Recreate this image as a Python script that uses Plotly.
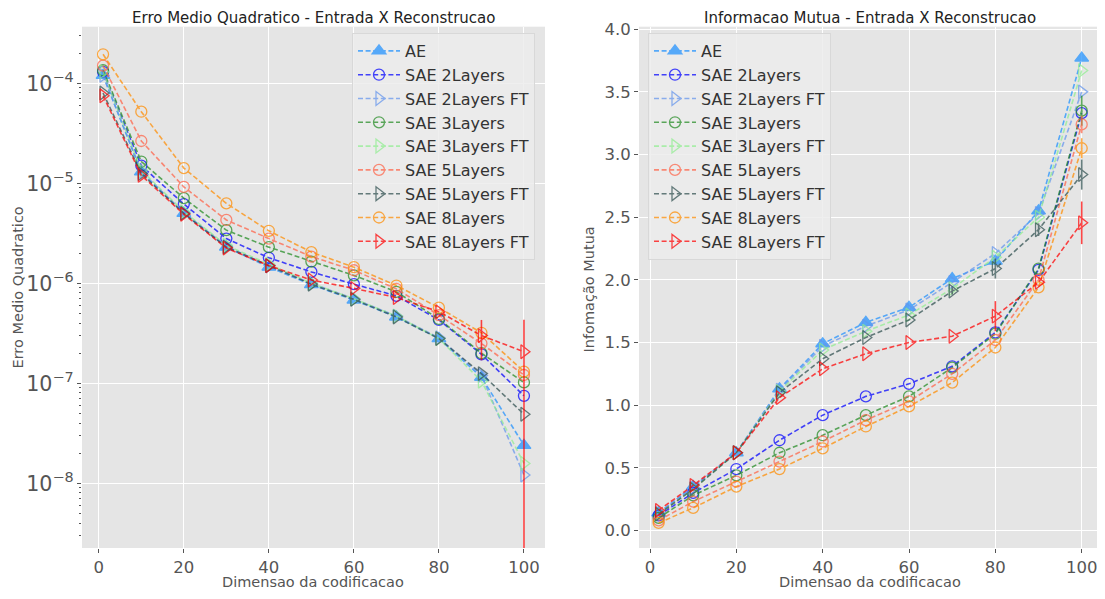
import plotly.graph_objects as go

# ---------------- data ----------------
series_names = ["AE", "SAE 2Layers", "SAE 2Layers FT", "SAE 3Layers", "SAE 3Layers FT",
                "SAE 5Layers", "SAE 5Layers FT", "SAE 8Layers", "SAE 8Layers FT"]

x_mse = [1, 10, 20, 30, 40, 50, 60, 70, 80, 90, 100]
x_mi = [2, 10, 20, 30, 40, 50, 60, 70, 80, 90, 100]

mse_ae = [1.2e-4, 1.3e-5, 5.0e-6, 2.3e-6, 1.45e-6, 9.7e-7, 6.8e-7, 4.6e-7, 2.8e-7, 1.15e-7, 2.4e-8]
mse_2l = [1.3e-4, 1.5e-5, 6.2e-6, 2.8e-6, 1.8e-6, 1.3e-6, 9.8e-7, 7.5e-7, 4.3e-7, 1.95e-7, 7.5e-8]
mse_2lft = [1.2e-4, 1.3e-5, 5.1e-6, 2.35e-6, 1.5e-6, 1.0e-6, 7.0e-7, 4.7e-7, 2.85e-7, 1.2e-7, 1.21e-8]
mse_3l = [1.35e-4, 1.65e-5, 7.1e-6, 3.4e-6, 2.3e-6, 1.65e-6, 1.2e-6, 8.2e-7, 4.4e-7, 2.0e-7, 1.02e-7]
mse_3lft = [1.3e-4, 1.35e-5, 5.2e-6, 2.4e-6, 1.55e-6, 1.0e-6, 7.0e-7, 4.7e-7, 2.8e-7, 1.05e-7, 1.58e-8]
mse_5l = [1.5e-4, 2.65e-5, 9.2e-6, 4.3e-6, 2.8e-6, 1.85e-6, 1.35e-6, 8.8e-7, 4.8e-7, 2.5e-7, 1.21e-7]
mse_5lft = [8.0e-5, 1.25e-5, 5.0e-6, 2.3e-6, 1.5e-6, 9.8e-7, 6.9e-7, 4.6e-7, 2.8e-7, 1.25e-7, 4.9e-8]
mse_8l = [1.95e-4, 5.2e-5, 1.42e-5, 6.3e-6, 3.35e-6, 2.05e-6, 1.45e-6, 9.5e-7, 5.7e-7, 3.2e-7, 1.31e-7]
mse_8lft = [7.5e-5, 1.2e-5, 4.9e-6, 2.25e-6, 1.5e-6, 1.08e-6, 8.9e-7, 7.2e-7, 5.2e-7, 3.0e-7, 2.07e-7]
mse_8lft_err = [0, 0, 0, 0, 0, 0, 0, 0, 0, 1.3e-7, 2.25e-7]

mi_ae = [0.14, 0.35, 0.62, 1.13, 1.49, 1.66, 1.78, 2.01, 2.15, 2.55, 3.77]
mi_2l = [0.12, 0.30, 0.49, 0.72, 0.92, 1.07, 1.17, 1.31, 1.58, 2.08, 3.33]
mi_2lft = [0.14, 0.34, 0.62, 1.12, 1.47, 1.63, 1.76, 1.98, 2.21, 2.53, 3.50]
mi_3l = [0.10, 0.28, 0.44, 0.62, 0.76, 0.92, 1.07, 1.30, 1.57, 2.09, 3.35]
mi_3lft = [0.13, 0.33, 0.62, 1.11, 1.44, 1.59, 1.72, 1.93, 2.18, 2.50, 3.67]
mi_5l = [0.08, 0.23, 0.39, 0.55, 0.71, 0.88, 1.03, 1.25, 1.52, 2.00, 3.24]
mi_5lft = [0.13, 0.33, 0.62, 1.10, 1.37, 1.54, 1.68, 1.91, 2.09, 2.40, 2.84]
mi_8l = [0.06, 0.18, 0.35, 0.49, 0.655, 0.83, 0.99, 1.18, 1.46, 1.94, 3.05]
mi_8lft = [0.16, 0.36, 0.62, 1.06, 1.29, 1.41, 1.50, 1.55, 1.71, 1.98, 2.455]

mi_3l_err = [0, 0, 0, 0, 0, 0, 0, 0, 0, 0, 0.12]
mi_5l_err = [0, 0, 0, 0, 0, 0, 0, 0, 0, 0, 0.07]
mi_5lft_err = [0, 0, 0, 0, 0, 0, 0, 0.03, 0.08, 0.05, 0.12]
mi_8l_err = [0, 0, 0, 0, 0, 0, 0, 0, 0, 0, 0.08]
mi_8lft_err = [0, 0, 0, 0, 0, 0, 0, 0, 0.12, 0, 0.17]
zero_err = [0] * 11

mse_values = [mse_ae, mse_2l, mse_2lft, mse_3l, mse_3lft, mse_5l, mse_5lft, mse_8l, mse_8lft]
mse_errors = [zero_err] * 8 + [mse_8lft_err]
mi_values = [mi_ae, mi_2l, mi_2lft, mi_3l, mi_3lft, mi_5l, mi_5lft, mi_8l, mi_8lft]
mi_errors = [zero_err, zero_err, zero_err, mi_3l_err, zero_err, mi_5l_err, mi_5lft_err, mi_8l_err, mi_8lft_err]

x_ticks = [0, 20, 40, 60, 80, 100]
mi_ticks = [0.0, 0.5, 1.0, 1.5, 2.0, 2.5, 3.0, 3.5, 4.0]

# ---------------- style ----------------
colors = ["#1E90FF", "#0000FF", "#6495ED", "#228B22", "#90EE90",
          "#FF6347", "#2F4F4F", "#FF8C00", "#FF0000"]
symbols = ["triangle-up", "circle-open", "triangle-right-open", "circle-open", "triangle-right-open",
           "circle-open", "triangle-right-open", "circle-open", "triangle-right-open"]

OFF = 8  # page body margin of the browser
W, H = 1105 - 2 * OFF, 599 - 2 * OFF
FONT = "DejaVu Sans"
TICKC = "#555555"

fig = go.Figure()

def add_traces(xs, values, errors, xa, ya, legend):
    for name, vals, err, c, s in zip(series_names, values, errors, colors, symbols):
        fig.add_trace(go.Scatter(
            x=xs, y=vals, name=name, mode="lines+markers",
            xaxis=xa, yaxis=ya, legend=legend, opacity=0.72,
            line=dict(color=c, width=1.6, dash="5px,2.6px"),
            marker=dict(symbol=s, size=11 if "circle" in s else 12, color=c,
                        line=dict(color=c, width=1.3)),
            error_y=dict(type="data", array=err, visible=True, color=c,
                         thickness=1.6, width=0),
        ))

add_traces(x_mse, mse_values, mse_errors, "x", "y", "legend")
add_traces(x_mi, mi_values, mi_errors, "x2", "y2", "legend2")

def px_x(p):
    return min(1.0, (p - OFF) / W)

def px_y(p):
    return 1 - (p - OFF) / H

ydom = [px_y(548), px_y(26.7)]
axis_common = dict(showgrid=True, gridcolor="white", gridwidth=1, zeroline=False,
                   ticks="outside", ticklen=4, tickcolor=TICKC, showline=False,
                   ticklabeloverflow="allow", automargin=False,
                   tickfont=dict(family=FONT, size=16.5, color=TICKC))

# right panel: px 650 -> x=0, 4.317 px per unit; panel clipped at the page edge
X2_ZERO, X2_SCALE = 650, 4.317
x2_range = [(639 - X2_ZERO) / X2_SCALE, (1097 - X2_ZERO) / X2_SCALE]

legend_common = dict(xanchor="left", yanchor="top",
                     bgcolor="rgba(236,236,236,0.85)", bordercolor="#D8D8D8", borderwidth=1,
                     font=dict(family=FONT, size=16, color="#333333"), itemwidth=42)

fig.update_layout(
    width=W, height=H,
    margin=dict(l=0, r=0, t=0, b=0, pad=0, autoexpand=False),
    paper_bgcolor="white", plot_bgcolor="#E5E5E5",
    font=dict(family=FONT, color="#333333"),
    xaxis=dict(domain=[px_x(82), px_x(545)], range=[-3.95, 104.95],
               tickvals=x_ticks, anchor="y", **axis_common),
    yaxis=dict(domain=ydom, type="log", range=[-8.647, -3.434], dtick=1,
               exponentformat="power", showexponent="all", anchor="x",
               minor=dict(ticks="outside", ticklen=2.5, tickcolor=TICKC, showgrid=False),
               **axis_common),
    xaxis2=dict(domain=[px_x(639), px_x(1097)], range=x2_range,
                tickvals=x_ticks, anchor="y2", **axis_common),
    yaxis2=dict(domain=ydom, range=[-0.14, 4.02], tickvals=mi_ticks,
                tickformat=".1f", anchor="x2", **axis_common),
    legend=dict(x=px_x(352), y=px_y(33), **legend_common),
    legend2=dict(x=px_x(648), y=px_y(33), **legend_common),
    showlegend=True,
)

ann_font = dict(family=FONT, size=14.5, color=TICKC)
title_font = dict(family=FONT, size=15, color="#222222")
annotations = [
    dict(text="Erro Medio Quadratico - Entrada X Reconstrucao", x=px_x(313), y=px_y(18),
         font=title_font),
    dict(text="Informacao Mutua - Entrada X Reconstrucao", x=px_x(870), y=px_y(18),
         font=title_font),
    dict(text="Dimensao da codificacao", x=px_x(313), y=px_y(581.5), font=ann_font),
    dict(text="Dimensao da codificacao", x=px_x(870), y=px_y(581.5), font=ann_font),
    dict(text="Erro Medio Quadratico", x=px_x(17), y=px_y(287.5), textangle=-90, font=ann_font),
    dict(text="Infomação Mutua", x=px_x(589), y=px_y(289.5), textangle=-90, font=ann_font),
]
for a in annotations:
    fig.add_annotation(xref="paper", yref="paper", showarrow=False,
                       xanchor="center", yanchor="middle", **a)

fig.write_html("out.html")
